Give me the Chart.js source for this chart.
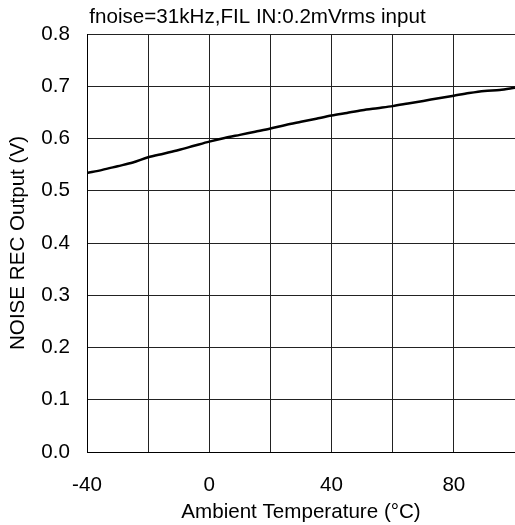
<!DOCTYPE html>
<html>
<head>
<meta charset="utf-8">
<script src="https://cdn.jsdelivr.net/npm/chart.js@4/dist/chart.umd.min.js"></script>
<style>
  html, body { margin: 0; padding: 0; background: #fff; }
  #wrap { width: 515px; height: 525px; }
</style>
</head>
<body>
<div id="wrap"><canvas id="c" width="515" height="525"></canvas></div>
<script>
const temperatures = [-40, -35, -30, -25, -20, -15, -10, -5, 0, 5, 10, 15, 20, 25, 30, 35, 40, 45, 50, 55, 60, 65, 70, 75, 80, 85, 90, 95, 100];
const noiseRecOutput = [0.534, 0.540, 0.547, 0.554, 0.564, 0.571, 0.578, 0.586, 0.594, 0.601, 0.607, 0.613, 0.619, 0.626, 0.632, 0.638, 0.644, 0.649, 0.654, 0.658, 0.662, 0.667, 0.672, 0.677, 0.682, 0.687, 0.691, 0.693, 0.697];
const xGridTicks = [-40, -20, 0, 20, 40, 60, 80, 100];
const xLabeledTicks = [-40, 0, 40, 80];
const chartTitle = 'fnoise=31kHz,FIL IN:0.2mVrms input';
const xTitle = 'Ambient Temperature (°C)';
const yTitle = 'NOISE REC Output (V)';

const FONT = 'Arial, "Liberation Sans", sans-serif';
const FS = 20.6;
const points = temperatures.map((t, i) => ({ x: t, y: noiseRecOutput[i] }));

new Chart(document.getElementById('c'), {
  type: 'line',
  data: {
    datasets: [{
      data: points,
      borderColor: '#000',
      borderWidth: 2.5,
      pointRadius: 0,
      tension: 0.3,
      fill: false
    }]
  },
  options: {
    responsive: false,
    animation: false,
    devicePixelRatio: 1,
    layout: { padding: 0 },
    plugins: {
      legend: { display: false },
      tooltip: { enabled: false },
      title: {
        display: true,
        text: chartTitle,
        color: '#000',
        font: { family: FONT, size: FS, weight: 'normal', lineHeight: 1.2 },
        padding: { top: 5, bottom: 4.3 }
      }
    },
    scales: {
      x: {
        type: 'linear',
        min: -40,
        max: 100,
        afterFit: s => { s.height = 73; s.paddingRight = 0; s.paddingLeft = 0; },
        afterBuildTicks: s => {
          s.ticks = xGridTicks.map(v => ({ value: v }));
        },
        ticks: {
          color: '#000',
          padding: 21,
          maxRotation: 0,
          autoSkip: false,
          font: { family: FONT, size: FS, lineHeight: 1.2 },
          callback: v => xLabeledTicks.includes(v) ? String(v) : ''
        },
        grid: { color: '#222', lineWidth: 1, drawTicks: false },
        border: { color: '#000', width: 1 },
        title: {
          display: true,
          text: xTitle,
          color: '#000',
          font: { family: FONT, size: FS, lineHeight: 1.2 },
          padding: { top: 4, bottom: 0 }
        }
      },
      y: {
        type: 'linear',
        min: 0,
        max: 0.8,
        afterFit: s => { s.width = 87; },
        ticks: {
          stepSize: 0.1,
          color: '#000',
          padding: 17,
          font: { family: FONT, size: FS, lineHeight: 1.2 },
          callback: v => Number(v).toFixed(1)
        },
        grid: { color: '#222', lineWidth: 1, drawTicks: false },
        border: { color: '#000', width: 1 },
        title: {
          display: true,
          text: yTitle,
          color: '#000',
          font: { family: FONT, size: FS, lineHeight: 1.2 },
          padding: { top: 5.5, bottom: 4 }
        }
      }
    }
  }
});
</script>
</body>
</html>
